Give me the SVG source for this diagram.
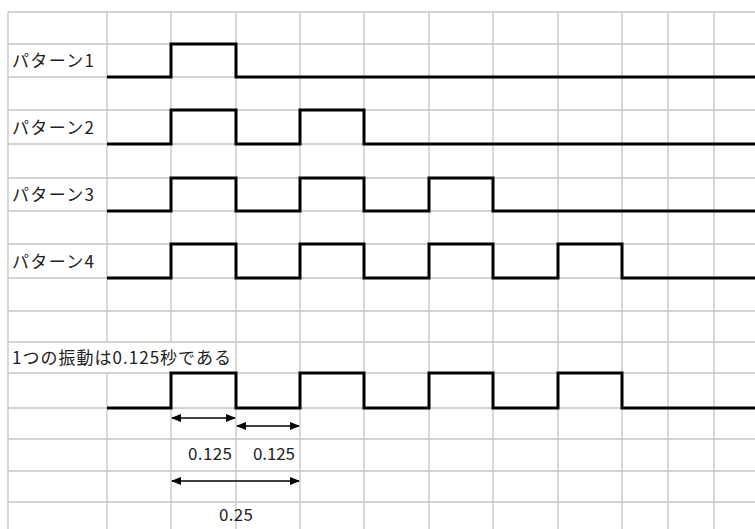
<svg xmlns="http://www.w3.org/2000/svg" width="755" height="529" viewBox="0 0 755 529">
<style>
.grid line{stroke:#c4c4c4;stroke-width:1.3}
.sig{fill:none;stroke:#000;stroke-width:3;stroke-linejoin:miter}
.lbl{font-family:"Noto Sans CJK JP","Noto Sans",sans-serif;font-size:17px;fill:#222}
.dim{stroke:#000;stroke-width:1.5;fill:none;marker-start:url(#ah);marker-end:url(#ah)}
</style>
<defs>
<marker id="ah" markerUnits="userSpaceOnUse" markerWidth="10" markerHeight="8" refX="9" refY="4" orient="auto-start-reverse">
<path d="M0,0 L10,4 L0,8 Z" fill="#000"/>
</marker>
</defs>
<rect width="755" height="529" fill="#fff"/>
<g class="grid" id="grid">
<line x1="8" y1="12" x2="755" y2="12"/>
<line x1="8" y1="44" x2="755" y2="44"/>
<line x1="8" y1="77" x2="755" y2="77"/>
<line x1="8" y1="110" x2="755" y2="110"/>
<line x1="8" y1="144" x2="755" y2="144"/>
<line x1="8" y1="178" x2="755" y2="178"/>
<line x1="8" y1="211" x2="755" y2="211"/>
<line x1="8" y1="244" x2="755" y2="244"/>
<line x1="8" y1="278" x2="755" y2="278"/>
<line x1="8" y1="311" x2="755" y2="311"/>
<line x1="8" y1="342" x2="755" y2="342"/>
<line x1="8" y1="373" x2="755" y2="373"/>
<line x1="8" y1="408" x2="755" y2="408"/>
<line x1="8" y1="439" x2="755" y2="439"/>
<line x1="8" y1="471" x2="755" y2="471"/>
<line x1="8" y1="502" x2="755" y2="502"/>
<line x1="8" y1="12" x2="8" y2="529"/>
<line x1="107" y1="12" x2="107" y2="342"/>
<line x1="107" y1="373" x2="107" y2="529"/>
<line x1="171" y1="12" x2="171" y2="342"/>
<line x1="171" y1="373" x2="171" y2="529"/>
<line x1="236" y1="12" x2="236" y2="529"/>
<line x1="300" y1="12" x2="300" y2="529"/>
<line x1="364" y1="12" x2="364" y2="529"/>
<line x1="429" y1="12" x2="429" y2="529"/>
<line x1="493" y1="12" x2="493" y2="529"/>
<line x1="558" y1="12" x2="558" y2="529"/>
<line x1="622" y1="12" x2="622" y2="529"/>
<line x1="668" y1="12" x2="668" y2="529"/>
<line x1="714" y1="12" x2="714" y2="529"/>
</g>
<g id="pattern1">
<text class="lbl" x="12" y="67" textLength="82" lengthAdjust="spacing">パターン1</text>
<path class="sig" d="M107,77 H171 V44 H236 V77 H755"/>
</g>
<g id="pattern2">
<text class="lbl" x="12" y="134" textLength="82" lengthAdjust="spacing">パターン2</text>
<path class="sig" d="M107,144 H171 V110 H236 V144 H300 V110 H364 V144 H755"/>
</g>
<g id="pattern3">
<text class="lbl" x="12" y="201" textLength="82" lengthAdjust="spacing">パターン3</text>
<path class="sig" d="M107,211 H171 V178 H236 V211 H300 V178 H364 V211 H429 V178 H493 V211 H755"/>
</g>
<g id="pattern4">
<text class="lbl" x="12" y="268" textLength="82" lengthAdjust="spacing">パターン4</text>
<path class="sig" d="M107,278 H171 V244 H236 V278 H300 V244 H364 V278 H429 V244 H493 V278 H558 V244 H622 V278 H755"/>
</g>
<g id="example">
<text class="lbl" x="12" y="364" textLength="219" lengthAdjust="spacing">1つの振動は0.125秒である</text>
<path class="sig" d="M107,408 H171 V373 H236 V408 H300 V373 H364 V408 H429 V373 H493 V408 H558 V373 H622 V408 H755"/>
</g>
<g id="labels">
<text class="lbl" x="188" y="460" textLength="44" lengthAdjust="spacing">0.125</text>
<text class="lbl" x="253" y="460" textLength="42" lengthAdjust="spacing">0.125</text>
<text class="lbl" x="219" y="521" textLength="34" lengthAdjust="spacing">0.25</text>
</g>
<g id="connectors">
<line class="dim" x1="172" y1="418" x2="235" y2="418"/>
<line class="dim" x1="237" y1="426" x2="299" y2="426"/>
<line class="dim" x1="172" y1="481" x2="299" y2="481"/>
</g>
</svg>
